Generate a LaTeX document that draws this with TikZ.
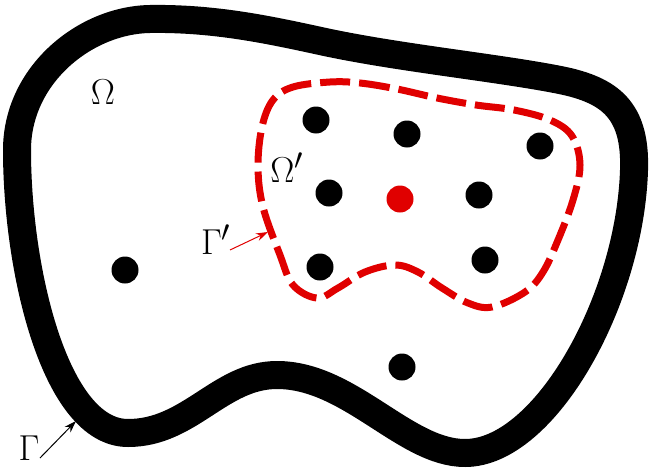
\documentclass[tikz,border=0pt]{standalone}
\usetikzlibrary{arrows.meta}
\definecolor{myred}{RGB}{224,0,0}
\begin{document}
\begin{tikzpicture}[x=1pt,y=-1pt,
  dot/.style={circle,fill=black,inner sep=0pt,minimum size=27pt},
  reddot/.style={dot,fill=myred},
  lbl/.style={font=\Huge,inner sep=0pt,scale=1.45,transform shape},
  boundary/.style={line width=28pt,line join=round},
  subboundary/.style={myred,line width=7pt,dash pattern=on 30pt off 9pt},
  pointer/.style={line width=1pt,-{Stealth[length=12pt,width=8pt]}}]
\useasboundingbox (0,0) rectangle (655,471);
% outer boundary Gamma
\draw[boundary] (17,150)
  .. controls (17,270) and (55,433) .. (128,433)
  .. controls (190,433) and (220,375) .. (277,375)
  .. controls (350,375) and (405,453) .. (465,453)
  .. controls (545,453) and (630,300) .. (634,170)
  .. controls (636,110) and (610,90) .. (560,80)
  .. controls (500,68) and (400,58) .. (325,42)
  .. controls (270,30) and (215,18) .. (150,19)
  .. controls (85,20) and (17,75) .. cycle;
% inner boundary Gamma'
\draw[subboundary] plot[smooth cycle,tension=0.6] coordinates {
  (330,82) (360,83) (397,89) (437,98) (476,105) (514,110) (550,120)
  (572,136) (580,165) (573,200) (558,240) (543,272) (525,292) (492,307)
  (468,303) (442,288) (418,272) (395,265) (365,272) (338,288) (317,298)
  (293,285) (280,255) (263,207) (258,167) (262,127) (273,100) (293,87)};
% points
\node[dot] (d1) at (316,120) {};
\node[dot] (d2) at (407,134) {};
\node[dot] (d3) at (540,146) {};
\node[dot] (d4) at (329,193) {};
\node[reddot] (d5) at (400,199) {};
\node[dot] (d6) at (479,195) {};
\node[dot] (d7) at (125,270) {};
\node[dot] (d8) at (320,267) {};
\node[dot] (d9) at (485,260) {};
\node[dot] (d10) at (402,367) {};
% labels
\node[lbl] (om) at (103,92) {$\Omega$};
\node[lbl] (omp) at (287,168) {$\Omega'$};
\node[lbl] (gp) at (216,240) {$\Gamma'$};
\node[lbl] (g) at (29,448) {$\Gamma$};
\coordinate (gpstart) at (230,250);
\coordinate (gptip) at (268,232);
\coordinate (gstart) at (40,458);
\coordinate (gtip) at (76,421);
\draw[pointer,myred] (gpstart) -- (gptip);
\draw[pointer] (gstart) -- (gtip);
\end{tikzpicture}
\end{document}
